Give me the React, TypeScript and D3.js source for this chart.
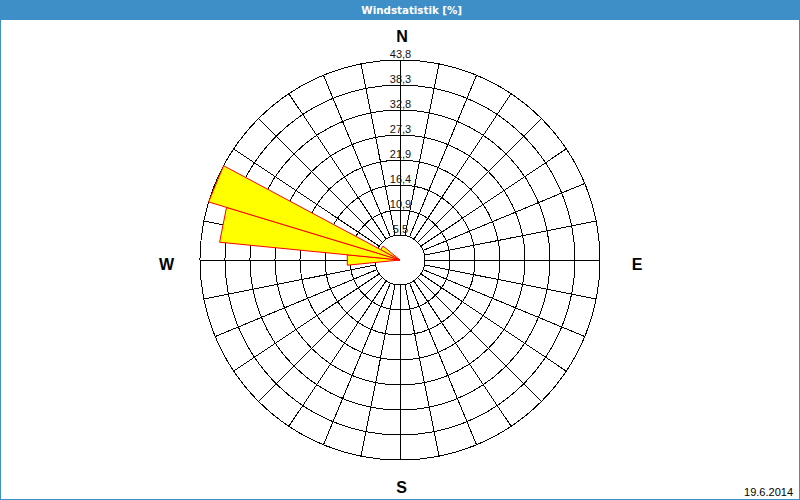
import React from "react";
import * as d3 from "d3";

// ---- data ----
const chartTitle = "Windstatistik [%]";
const dateLabel = "19.6.2014";
const windDirections = [270, 281.25, 292.5, 303.75]; // compass degrees (sector centers)
const windPercent = [11.6, 39.7, 43.8, 4.8];
const sectorWidthDeg = 11.25;
const ringValues = [5.475, 10.95, 16.425, 21.9, 27.375, 32.85, 38.325, 43.8];
const ringLabels = ["5,5", "10,9", "16,4", "21,9", "27,3", "32,8", "38,3", "43,8"];
const compassLabels = ["N", "E", "S", "W"];
const spokeCount = 32;

const W = 800;
const H = 500;
const cx = 400;
const cy = 260;
const maxR = 200;

if (typeof document !== "undefined") {
  document.body.style.margin = "0";
}

export default function App() {
  const r = d3.scaleLinear().domain([0, ringValues[ringValues.length - 1]]).range([0, maxR]);
  const toRad = (deg: number) => (deg * Math.PI) / 180;
  const innerR = r(ringValues[0]);

  const wedgeLine = d3
    .lineRadial<[number, number]>()
    .angle((d) => d[0])
    .radius((d) => d[1])
    .curve(d3.curveLinearClosed);

  const spokes = d3.range(spokeCount).map((i) => toRad((360 / spokeCount) * i));

  const compassPos: Record<string, { x: number; y: number }> = {
    N: { x: cx + 2, y: cy - 218 },
    E: { x: cx + 237, y: cy + 9.5 },
    S: { x: cx + 1.5, y: cy + 233 },
    W: { x: cx - 233.5, y: cy + 9.5 },
  };

  return (
    <svg width={W} height={H} style={{ display: "block" }}>
      <rect x={0} y={0} width={W} height={H} fill="#ffffff" />
      {/* title bar */}
      <rect x={0} y={0} width={W} height={20} fill="#3e8fc7" />
      <rect x={0.5} y={0.5} width={W - 1} height={H - 1} fill="none" stroke="#3e8fc7" strokeWidth={1} />
      <text
        x={411.7}
        y={14}
        textAnchor="middle"
        fill="#ffffff"
        fontFamily="DejaVu Sans, Verdana, sans-serif"
        fontWeight="bold"
        fontSize={10.3}
      >
        {chartTitle}
      </text>

      <g transform={`translate(${cx},${cy})`}>
        {/* rings */}
        {ringValues.map((v, i) => (
          <circle
            key={"ring" + i}
            r={r(v)}
            fill={i === 0 ? "#ffffff" : "none"}
            stroke="#000"
            strokeWidth={1}
            shapeRendering="crispEdges"
          />
        ))}
        {/* spokes */}
        {spokes.map((a, i) => (
          <line
            key={"sp" + i}
            x1={innerR * Math.sin(a)}
            y1={-innerR * Math.cos(a)}
            x2={maxR * Math.sin(a)}
            y2={-maxR * Math.cos(a)}
            stroke="#000"
            strokeWidth={1}
            shapeRendering="crispEdges"
          />
        ))}
        {/* wedges */}
        {windDirections.map((dir, i) => {
          const a0 = toRad(dir - sectorWidthDeg / 2);
          const a1 = toRad(dir + sectorWidthDeg / 2);
          const rv = r(windPercent[i]);
          const d = wedgeLine([
            [0, 0],
            [a0, rv],
            [a1, rv],
          ]) as string;
          return <path key={"w" + i} d={d} fill="#ffff00" stroke="#ff0000" strokeWidth={1} strokeLinejoin="miter" />;
        })}
        {/* ring labels */}
        {ringValues.map((v, i) => (
          <text
            key={"rl" + i}
            x={0.5}
            y={-r(v) - 2.5}
            textAnchor="middle"
            fill="#111"
            fontFamily="Liberation Sans, Arial, sans-serif"
            fontSize={11}
          >
            {ringLabels[i]}
          </text>
        ))}
      </g>

      {/* compass letters */}
      {compassLabels.map((c) => (
        <text
          key={c}
          x={compassPos[c].x}
          y={compassPos[c].y}
          textAnchor="middle"
          fill="#000"
          fontFamily="Liberation Sans, Arial, sans-serif"
          fontWeight="bold"
          fontSize={16}
        >
          {c}
        </text>
      ))}

      <text
        x={793}
        y={496}
        textAnchor="end"
        fill="#000"
        fontFamily="Liberation Sans, Arial, sans-serif"
        fontSize={11}
      >
        {dateLabel}
      </text>
    </svg>
  );
}
